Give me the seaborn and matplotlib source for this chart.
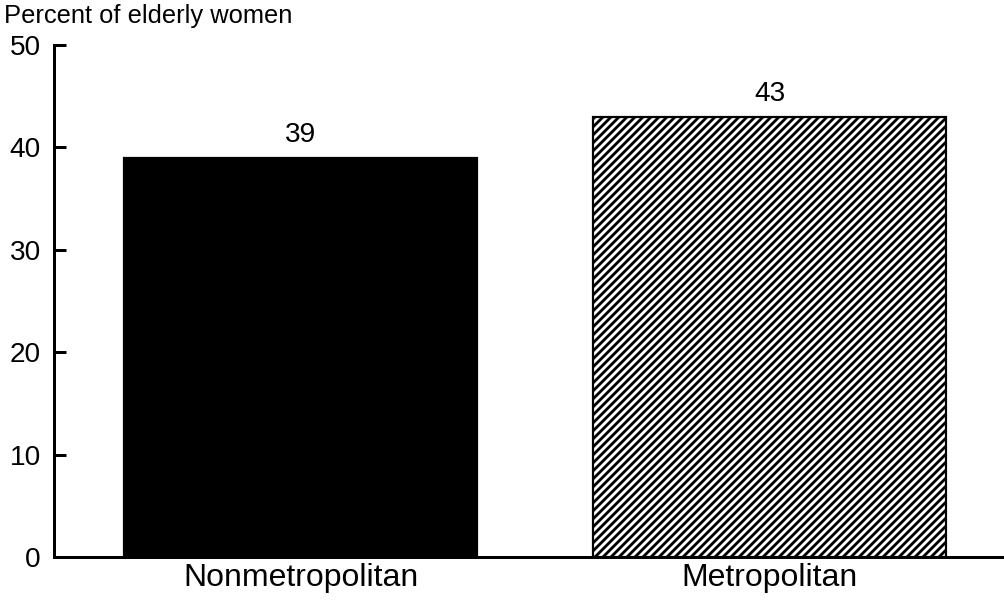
import matplotlib
matplotlib.use("Agg")
import matplotlib.pyplot as plt
import seaborn as sns
import pandas as pd

categories = ["Nonmetropolitan", "Metropolitan"]
values = [39, 43]
labels = ["39", "43"]
yticks = [0, 10, 20, 30, 40, 50]

DPI = 96
W, H = 1004, 603
def pt(px):
    return px * 72.0 / DPI

sns.set_theme(style="white")
plt.rcParams["font.family"] = ["Liberation Sans", "DejaVu Sans"]
plt.rcParams["hatch.linewidth"] = pt(2.8)
plt.rcParams["hatch.color"] = "black"

fig = plt.figure(figsize=(W / DPI, H / DPI), dpi=DPI)
ax = fig.add_axes([54 / W, 1 - 557 / H, (W - 54) / W, (557 - 45) / H])

df = pd.DataFrame({"cat": categories, "val": values})
sns.barplot(data=df, x="cat", y="val", hue="cat", palette=["black", "white"],
            width=0.753, legend=False, ax=ax, saturation=1)

for i, p in enumerate(ax.patches):
    p.set_edgecolor("black")
    p.set_linewidth(pt(2.2))
    if i == 1:
        p.set_hatch("////")

ax.set_xlim(-0.526, 1.5)
ax.set_ylim(0, 50)
ax.set_yticks(yticks)
ax.set_yticklabels([str(t) for t in yticks])
ax.set_xlabel("")
ax.set_ylabel("")

for s in ["top", "right"]:
    ax.spines[s].set_visible(False)
for s in ["left", "bottom"]:
    ax.spines[s].set_visible(True)
    ax.spines[s].set_color("black")
    ax.spines[s].set_linewidth(pt(3))

ax.tick_params(axis="y", direction="in", length=pt(12), width=pt(3), color="black",
               labelsize=pt(28), pad=pt(13), labelcolor="black", left=True)
ax.tick_params(axis="x", length=0, labelsize=pt(32), pad=pt(6), labelcolor="black")

for i, (v, lab) in enumerate(zip(values, labels)):
    ax.annotate(lab, xy=(i, v), xytext=(0, pt(10)), textcoords="offset points",
                ha="center", va="bottom", fontsize=pt(28), color="black")

fig.text(4 / W, 1 - 16 / H, "Percent of elderly women", ha="left", va="center",
         fontsize=pt(25.5), color="black")

fig.savefig("out.png", dpi=DPI, facecolor="white")
